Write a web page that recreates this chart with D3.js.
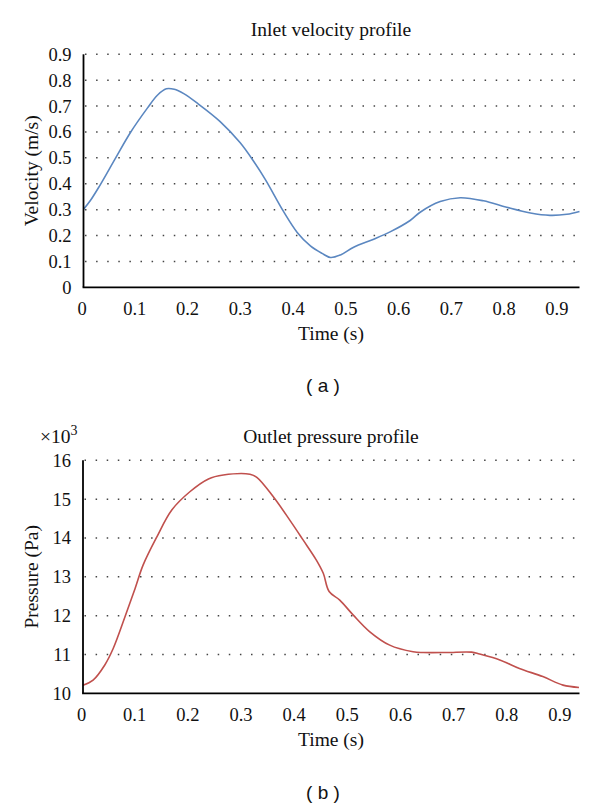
<!DOCTYPE html>
<html><head><meta charset="utf-8">
<script src="https://cdn.jsdelivr.net/npm/d3@7"></script>
<style>body{margin:0;background:#fff}</style>
</head><body>
<svg id="c" width="600" height="808"></svg>
<script>
const velTime  = [0, 0.013, 0.030, 0.061, 0.089, 0.121, 0.140, 0.157, 0.172, 0.190, 0.215, 0.259, 0.297, 0.323, 0.345, 0.379, 0.405, 0.430, 0.452, 0.468, 0.487, 0.512, 0.550, 0.581, 0.619, 0.638, 0.676, 0.714, 0.758, 0.802, 0.847, 0.884, 0.916, 0.940];
const velValue = [0.301, 0.335, 0.390, 0.500, 0.598, 0.692, 0.742, 0.767, 0.765, 0.748, 0.712, 0.640, 0.558, 0.485, 0.415, 0.293, 0.212, 0.160, 0.131, 0.115, 0.125, 0.155, 0.186, 0.214, 0.258, 0.290, 0.331, 0.346, 0.334, 0.309, 0.287, 0.278, 0.282, 0.293];
const presTime  = [0, 0.019, 0.041, 0.057, 0.079, 0.098, 0.113, 0.139, 0.167, 0.201, 0.236, 0.264, 0.314, 0.327, 0.358, 0.389, 0.414, 0.439, 0.452, 0.463, 0.483, 0.508, 0.539, 0.577, 0.621, 0.640, 0.684, 0.731, 0.746, 0.784, 0.821, 0.865, 0.903, 0.933];
const presValue = [10.21, 10.34, 10.73, 11.16, 11.97, 12.70, 13.30, 14.03, 14.72, 15.19, 15.52, 15.62, 15.64, 15.56, 15.06, 14.46, 13.95, 13.43, 13.09, 12.62, 12.40, 12.02, 11.59, 11.24, 11.07, 11.05, 11.05, 11.06, 11.01, 10.86, 10.64, 10.43, 10.21, 10.15];
const timeTicks = [0, 0.1, 0.2, 0.3, 0.4, 0.5, 0.6, 0.7, 0.8, 0.9];
const velTicks  = [0, 0.1, 0.2, 0.3, 0.4, 0.5, 0.6, 0.7, 0.8, 0.9];
const presTicks = [10, 11, 12, 13, 14, 15, 16];

const svg = d3.select("#c");
const serif = "'Liberation Serif', 'Times New Roman', serif";
const ink = "#111";

function panel(cfg) {
  const x = d3.scaleLinear().domain(cfg.xDomain).range([cfg.left, cfg.right]);
  const y = d3.scaleLinear().domain(cfg.yDomain).range([cfg.bottom, cfg.top]);
  const g = svg.append("g");

  // dotted grid
  g.selectAll("line.grid").data(cfg.yTicks.filter(d => d !== cfg.yDomain[0]))
    .enter().append("line")
    .attr("x1", cfg.left + 1.5).attr("x2", cfg.right)
    .attr("y1", d => y(d)).attr("y2", d => y(d))
    .attr("stroke", "#444").attr("stroke-width", 1.5)
    .attr("stroke-dasharray", "1.5 9.6");

  // line
  const line = d3.line().x(d => x(d[0])).y(d => y(d[1])).curve(d3.curveCatmullRom.alpha(0.5));
  g.append("path").datum(cfg.t.map((t, i) => [t, cfg.v[i]]))
    .attr("d", line).attr("fill", "none")
    .attr("stroke", cfg.color).attr("stroke-width", 1.6);

  // axes lines
  g.append("line").attr("x1", cfg.left).attr("x2", cfg.left)
    .attr("y1", cfg.top).attr("y2", cfg.bottom)
    .attr("stroke", "#000").attr("stroke-width", 1.8);
  g.append("line").attr("x1", cfg.left - 0.9).attr("x2", cfg.right)
    .attr("y1", cfg.bottom).attr("y2", cfg.bottom)
    .attr("stroke", "#000").attr("stroke-width", 1.8);

  // y tick labels
  g.selectAll("text.yt").data(cfg.yTicks).enter().append("text")
    .attr("x", cfg.left - 12).attr("y", d => y(d) + 6.5)
    .attr("text-anchor", "end")
    .style("font-family", serif).style("font-size", "18.5px").attr("fill", ink)
    .text(cfg.yFmt);

  // x tick labels
  g.selectAll("text.xt").data(timeTicks).enter().append("text")
    .attr("x", d => x(d) - 1.5).attr("y", cfg.bottom + 28)
    .attr("text-anchor", "middle")
    .style("font-family", serif).style("font-size", "18.5px").attr("fill", ink)
    .text(d => d === 0 ? "0" : d3.format(".1f")(d));

  // titles
  g.append("text").attr("x", 331).attr("y", cfg.titleY)
    .attr("text-anchor", "middle")
    .style("font-family", serif).style("font-size", "19.5px").attr("fill", ink)
    .text(cfg.title);
  g.append("text").attr("x", 331).attr("y", cfg.bottom + 53)
    .attr("text-anchor", "middle")
    .style("font-family", serif).style("font-size", "19.5px").attr("fill", ink)
    .text("Time (s)");
  g.append("text")
    .attr("transform", `translate(37.5,${(cfg.top + cfg.bottom) / 2}) rotate(-90)`)
    .attr("text-anchor", "middle")
    .style("font-family", serif).style("font-size", "19.5px").attr("fill", ink)
    .text(cfg.yLabel);
  g.append("text").attr("x", 323).attr("y", cfg.capY)
    .attr("text-anchor", "middle")
    .style("font-family", "'Liberation Sans', Arial, sans-serif").style("font-size", "19px").attr("fill", ink)
    .attr("xml:space", "preserve")
    .text(cfg.caption);
  return {x, y};
}

panel({
  left: 83.5, right: 579.5, top: 54.3, bottom: 287.3,
  xDomain: [0, 0.94], yDomain: [0, 0.9], yTicks: velTicks,
  yFmt: d => d === 0 ? "0" : d3.format(".1f")(d),
  t: velTime, v: velValue, color: "#5B87C0",
  title: "Inlet velocity profile", titleY: 36, yLabel: "Velocity (m/s)",
  caption: "( a )", capY: 392
});

panel({
  left: 83, right: 579.5, top: 460.3, bottom: 693.3,
  xDomain: [0, 0.934], yDomain: [10, 16], yTicks: presTicks,
  yFmt: d => String(d),
  t: presTime, v: presValue, color: "#C0504D",
  title: "Outlet pressure profile", titleY: 443, yLabel: "Pressure (Pa)",
  caption: "( b )", capY: 799
});

// multiplier
const mult = svg.append("text").attr("x", 40).attr("y", 443)
  .style("font-family", serif).style("font-size", "19.5px").attr("fill", ink);
mult.append("tspan").text("×10");
mult.append("tspan").attr("dy", -8).style("font-size", "14px").text("3");
</script>
</body></html>
